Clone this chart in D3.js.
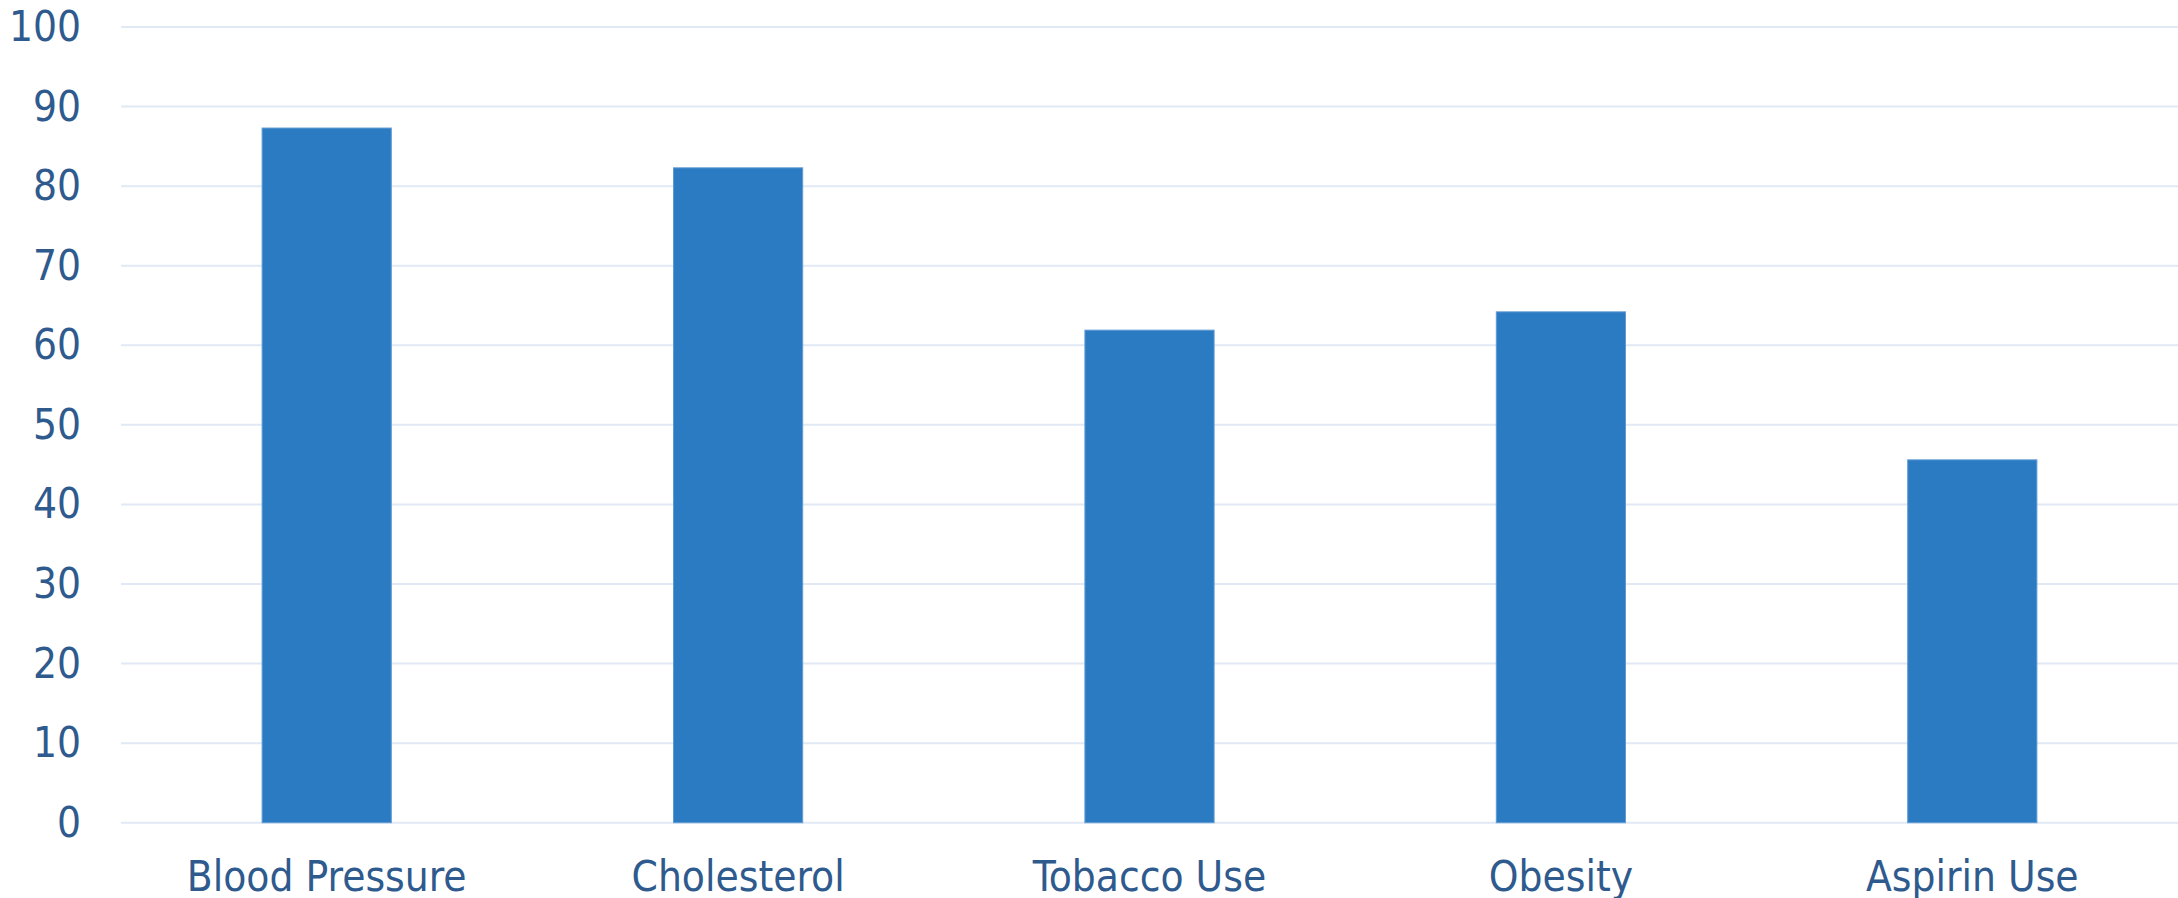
<!DOCTYPE html>
<html>
<head>
<meta charset="utf-8">
<script src="https://cdn.jsdelivr.net/npm/d3@7"></script>
<style>
  html, body { margin: 0; padding: 0; background: #ffffff; }
  svg { display: block; }
  text { font-family: "DejaVu Sans Condensed", "DejaVu Sans", sans-serif; fill: #2e5a8e; }
</style>
</head>
<body>
<svg id="chart" width="2178" height="898"></svg>
<script>
const categories = ["Blood Pressure", "Cholesterol", "Tobacco Use", "Obesity", "Aspirin Use"];
const values = [87.3, 82.3, 61.9, 64.2, 45.6];
const yTicks = [0, 10, 20, 30, 40, 50, 60, 70, 80, 90, 100];

const W = 2178, H = 898;
const margin = { top: 27, right: 0, bottom: 75, left: 121 };
const svg = d3.select("#chart");

const x = d3.scaleBand()
  .domain(categories)
  .range([margin.left, W - margin.right])
  .paddingInner(0.686)
  .paddingOuter(0.343);

const y = d3.scaleLinear()
  .domain([0, 100])
  .range([H - margin.bottom - 0.3, margin.top]);

// gridlines
svg.append("g")
  .selectAll("line")
  .data(yTicks)
  .join("line")
  .attr("x1", margin.left)
  .attr("x2", W - margin.right)
  .attr("y1", d => y(d))
  .attr("y2", d => y(d))
  .attr("stroke", "#e1e9f4")
  .attr("stroke-width", 2);

// y axis labels
const yAxis = d3.axisLeft(y).tickValues(yTicks).tickSize(0).tickPadding(40);
const gy = svg.append("g")
  .attr("transform", `translate(${margin.left},0)`)
  .call(yAxis);
gy.select(".domain").remove();
gy.selectAll("text")
  .style("font-size", "42px")
  .attr("fill", "#2e5a8e");

// bars
svg.append("g")
  .selectAll("rect")
  .data(values)
  .join("rect")
  .attr("x", (d, i) => x(categories[i]))
  .attr("width", x.bandwidth())
  .attr("y", d => y(d))
  .attr("height", d => y(0) - y(d))
  .attr("fill", "#2b7bc3")
  .attr("stroke", "#5f9ad3")
  .attr("stroke-width", 1);

// x axis labels
const xAxis = d3.axisBottom(x).tickSize(0).tickPadding(38);
const gx = svg.append("g")
  .attr("transform", `translate(0,${y(0)})`)
  .call(xAxis);
gx.select(".domain").remove();
gx.selectAll("text")
  .style("font-size", "42px")
  .attr("fill", "#2e5a8e");
</script>
</body>
</html>
